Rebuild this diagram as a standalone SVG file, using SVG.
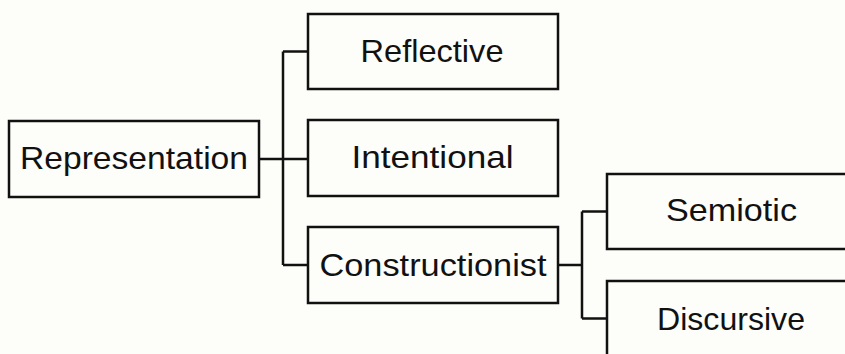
<svg xmlns="http://www.w3.org/2000/svg" width="845" height="354" viewBox="0 0 845 354">
<style>
.box{fill:#fdfdf9;stroke:#111;stroke-width:2.5}
.lbl{font-family:"Liberation Sans",Arial,sans-serif;font-size:32px;fill:#111;text-anchor:middle}
.conn{fill:none;stroke:#111;stroke-width:2.5}
</style>
<rect width="845" height="354" fill="#fdfdf9"/>
<g id="connectors">
<path class="conn" d="M259,159 H308 M283,51.5 V265 M283,51.5 H308 M283,265 H308"/>
<path class="conn" d="M558,265 H582 M582,211.5 V318.5 M582,211.5 H607 M582,318.5 H607"/>
</g>
<g id="representation">
<rect class="box" x="9" y="121" width="250" height="76"/>
<text class="lbl" x="134" y="169" textLength="228" lengthAdjust="spacingAndGlyphs">Representation</text>
</g>
<g id="reflective">
<rect class="box" x="308" y="14" width="250" height="75"/>
<text class="lbl" x="432" y="62" textLength="143" lengthAdjust="spacingAndGlyphs">Reflective</text>
</g>
<g id="intentional">
<rect class="box" x="308" y="120" width="250" height="76"/>
<text class="lbl" x="432.5" y="168" textLength="162" lengthAdjust="spacingAndGlyphs">Intentional</text>
</g>
<g id="constructionist">
<rect class="box" x="308" y="227" width="250" height="76"/>
<text class="lbl" x="433" y="276" textLength="227" lengthAdjust="spacingAndGlyphs">Constructionist</text>
</g>
<g id="semiotic">
<rect class="box" x="607" y="174" width="250" height="75"/>
<text class="lbl" x="731.5" y="221" textLength="131" lengthAdjust="spacingAndGlyphs">Semiotic</text>
</g>
<g id="discursive">
<rect class="box" x="607" y="281" width="250" height="76"/>
<text class="lbl" x="731" y="330" textLength="148" lengthAdjust="spacingAndGlyphs">Discursive</text>
</g>
</svg>
